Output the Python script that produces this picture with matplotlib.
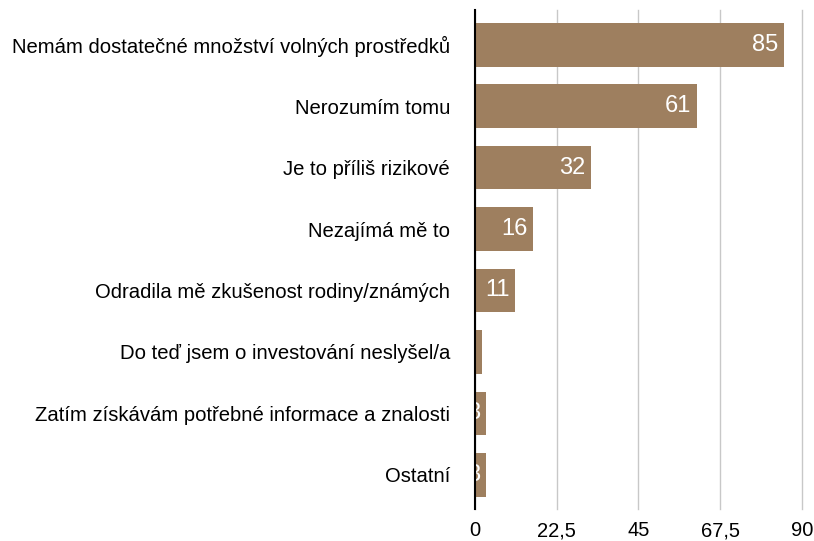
import matplotlib.pyplot as plt
from matplotlib.ticker import FixedLocator

plt.rcParams['font.family'] = ['Liberation Sans', 'DejaVu Sans']

reasons = ['Nemám dostatečné množství volných prostředků',
           'Nerozumím tomu',
           'Je to příliš rizikové',
           'Nezajímá mě to',
           'Odradila mě zkušenost rodiny/známých',
           'Do teď jsem o investování neslyšel/a',
           'Zatím získávám potřebné informace a znalosti',
           'Ostatní']
counts = [85, 61, 32, 16, 11, 2, 3, 3]
xticks = [0, 22.5, 45, 67.5, 90]
xtick_labels = ['0', '22,5', '45', '67,5', '90']

fig = plt.figure(figsize=(8.14, 5.41), dpi=100)
ax = fig.add_axes([0.5835, 0.06, 0.4017, 0.922])

ypos = list(range(len(reasons)))
bars = ax.barh(ypos, counts, height=0.71, color='#9e7f5f', zorder=3)

# white value labels at the end of each bar, clipped by the bar itself
for bar, v in zip(bars, counts):
    t = ax.annotate(str(v), xy=(v, bar.get_y() + bar.get_height() / 2),
                    xytext=(-4, 0), textcoords='offset points',
                    ha='right', va='center', color='white', fontsize=17, zorder=4)
    t.set_clip_path(bar)

ax.set_xlim(0, 90)
ax.set_ylim(len(reasons) - 0.45, -0.57)
ax.xaxis.set_major_locator(FixedLocator(xticks))
ax.set_xticklabels(xtick_labels, fontsize=14.5)
ax.set_yticks(ypos)
ax.set_yticklabels(reasons, fontsize=14.6)
ax.tick_params(axis='y', length=0, pad=18)
ax.tick_params(axis='x', length=0, pad=9)
ax.grid(axis='x', color='#c8c8c8', linewidth=1, zorder=0)
for line in ax.get_xgridlines():
    line.set_clip_on(False)

for s in ['top', 'right', 'bottom']:
    ax.spines[s].set_visible(False)
ax.spines['left'].set_linewidth(1.5)
ax.spines['left'].set_color('black')
ax.spines['left'].set_zorder(5)

fig.savefig('out.png', dpi=100)
